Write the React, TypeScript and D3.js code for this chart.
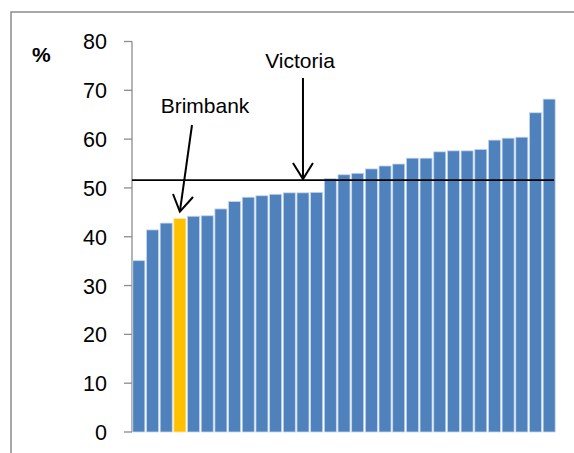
import React from "react";
import * as d3 from "d3";

const categories: string[] = Array.from({ length: 31 }, (_, i) => `LGA ${i + 1}`);
const values: number[] = [35.1, 41.4, 42.8, 43.7, 44.2, 44.3, 45.7, 47.2, 48.1, 48.4, 48.7, 49.0, 49.0, 49.1, 51.9, 52.7, 53.0, 53.9, 54.5, 54.9, 56.1, 56.1, 57.4, 57.6, 57.6, 57.9, 59.8, 60.2, 60.4, 65.4, 68.2];
const highlightIndex = 3;
const victoriaValue = 51.6;
const victoriaArrowIndex = 12;
const yTicks: number[] = [0, 10, 20, 30, 40, 50, 60, 70, 80];

export default function App() {
  const W = 574, H = 453;
  const x = d3.scaleBand<string>().domain(categories).range([132, 556]).paddingInner(0.12).paddingOuter(0.06);
  const y = d3.scaleLinear().domain([0, 80]).range([432, 41.5]);
  const font = "Liberation Sans, Arial, sans-serif";

  const bx = (x(categories[highlightIndex]) as number) + x.bandwidth() / 2;
  const bTipY = y(values[highlightIndex]) - 7;
  const vx = (x(categories[victoriaArrowIndex]) as number) + x.bandwidth() / 2;
  const vTipY = y(victoriaValue) - 1;

  return (
    <svg width={W} height={H} style={{ position: "absolute", left: 0, top: 0 }} fontFamily={font}>
      <rect x={0} y={0} width={W} height={H} fill="#fff" />
      <path d={`M11,${H} V12 H${W}`} fill="none" stroke="#8c8c8c" strokeWidth={1.5} />
      <text x={32} y={62} fontSize={21} fontWeight="bold">%</text>
      {yTicks.map((t) => (
        <g key={t}>
          <line x1={124} x2={132} y1={y(t)} y2={y(t)} stroke="#8c8c8c" strokeWidth={1.3} />
          <text x={107} y={y(t)} dy="0.37em" textAnchor="end" fontSize={21.5} fill="#000">{t}</text>
        </g>
      ))}
      <line x1={132} x2={132} y1={y(80)} y2={y(0)} stroke="#8c8c8c" strokeWidth={1.3} />
      {values.map((v, i) => (
        <rect
          key={i}
          x={x(categories[i]) as number}
          y={y(v)}
          width={x.bandwidth()}
          height={y(0) - y(v)}
          fill={i === highlightIndex ? "#FFC000" : "#4F81BD"}
          stroke={i === highlightIndex ? "#ffe699" : "#c5d6ec"}
          strokeWidth={0.8}
        />
      ))}
      <line x1={132} x2={554} y1={y(victoriaValue)} y2={y(victoriaValue)} stroke="#000" strokeWidth={1.6} />
      <line x1={192} y1={125} x2={bx} y2={bTipY} stroke="#000" strokeWidth={2} />
      <path d={`M173,194 L${bx},${bTipY} L193,197`} fill="none" stroke="#000" strokeWidth={2} />
      <text x={205} y={113} textAnchor="middle" fontSize={21}>Brimbank</text>
      <line x1={vx} y1={78} x2={vx} y2={vTipY} stroke="#000" strokeWidth={2} />
      <path d={`M${vx - 10},163 L${vx},${vTipY} L${vx + 10},163`} fill="none" stroke="#000" strokeWidth={2} />
      <text x={300} y={68} textAnchor="middle" fontSize={21}>Victoria</text>
    </svg>
  );
}
